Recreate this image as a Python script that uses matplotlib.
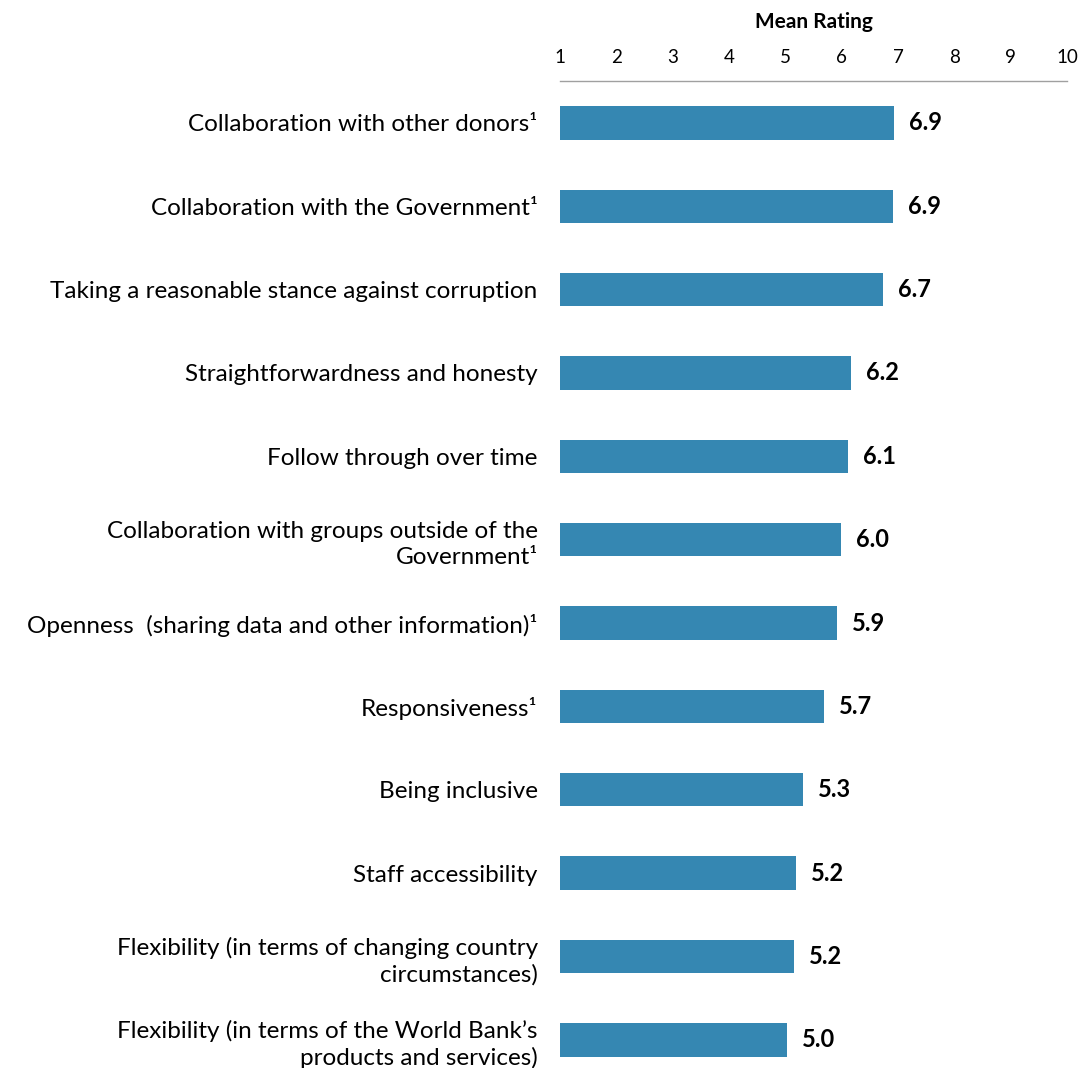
import matplotlib.pyplot as plt
import numpy as np

# Datos
categorias = [
    "Collaboration with other donors\u00b9",
    "Collaboration with the Government\u00b9",
    "Taking a reasonable stance against corruption",
    "Straightforwardness and honesty",
    "Follow through over time",
    "Collaboration with groups outside of the\nGovernment\u00b9",
    "Openness  (sharing data and other information)\u00b9",
    "Responsiveness\u00b9",
    "Being inclusive",
    "Staff accessibility",
    "Flexibility (in terms of changing country\ncircumstances)",
    "Flexibility (in terms of the World Bank\u2019s\nproducts and services)",
]
valores = [6.93, 6.91, 6.74, 6.17, 6.12, 5.99, 5.92, 5.69, 5.32, 5.19, 5.16, 5.03]
ticks = list(range(1, 11))

plt.rcParams['font.family'] = ['Lato', 'DejaVu Sans']

fig = plt.figure(figsize=(10.81, 10.68), dpi=100)
ax = fig.add_axes([0.518, -0.0127, 0.469, 0.9367])

y = np.arange(len(categorias))
ax.barh(y, np.array(valores) - 1, left=1, height=0.4, color='#3587b2')

for yi, v in zip(y, valores):
    ax.text(v + 0.26, yi, f"{v:.1f}", va='center', ha='left',
            fontsize=17, fontweight='bold', color='black')

ax.set_xlim(1, 10)
ax.set_ylim(len(categorias) - 0.5, -0.5)
ax.set_xticks(ticks)
ax.set_xticklabels([str(t) for t in ticks], fontsize=13.5)
ax.xaxis.tick_top()
ax.xaxis.set_label_position('top')
ax.tick_params(axis='x', length=0, pad=11)
ax.set_xlabel("Mean Rating", fontsize=15, fontweight='bold', labelpad=15)

ax.set_yticks(y)
ax.set_yticklabels(categorias, fontsize=17.5)
ax.tick_params(axis='y', length=0, pad=16)
for lbl in ax.get_yticklabels():
    lbl.set_multialignment('right')
    lbl.set_linespacing(1.3)

for s in ['left', 'right', 'bottom']:
    ax.spines[s].set_visible(False)
ax.spines['top'].set_color('#a0a0a0')
ax.spines['top'].set_linewidth(1)

fig.savefig("out.png", dpi=100)
